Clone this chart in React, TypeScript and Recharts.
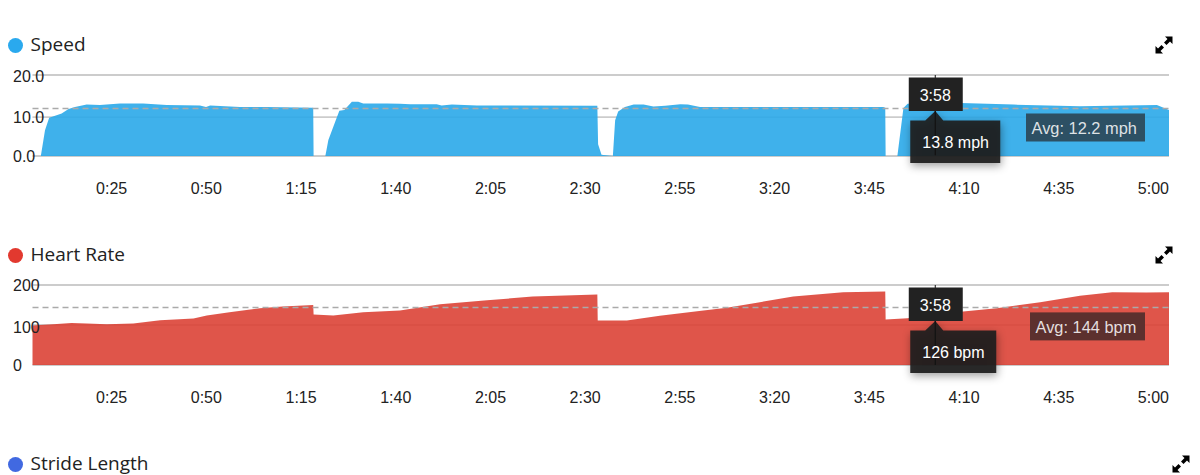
import React from 'react';
import { AreaChart, Area, XAxis, YAxis, ReferenceLine, CartesianGrid } from 'recharts';

const timeTicks = [25, 50, 75, 100, 125, 150, 175, 200, 225, 250, 275, 300];

// [seconds, mph]
const speedPoints = [
  [0, 0], [2.2, 0], [3.3, 6.6], [4.4, 9.8], [7.7, 10.9], [9.5, 12.1], [11.2, 12.6], [14.3, 13.2],
  [17.8, 13.1], [23.1, 13.5], [29.2, 13.5], [35.4, 13.1], [44.2, 13], [45.8, 12.6], [46.9, 13],
  [54.8, 12.6], [61.8, 12.6], [74.1, 12.4], [74.2, 0], [77.3, 0], [78.1, 4.1], [79.9, 8.8],
  [81, 11.6], [82.3, 11.8], [84.3, 13.9], [86, 13.9], [87.3, 13.5], [93.5, 13.5], [97, 13.4],
  [99.7, 13.3], [106.7, 13.3], [108, 13], [110.7, 13.2], [117.3, 13], [149.1, 12.9], [149.3, 3],
  [150.2, 0.3], [153.2, 0], [153.8, 9.2], [154.6, 11.4], [156.4, 12.6], [158.7, 13.2], [161.3, 13.2],
  [163.9, 12.7], [167, 12.9], [171, 13.3], [173, 13.2], [176.2, 12.6], [224.6, 12.6], [225.1, 12.4],
  [225.2, 0], [228.3, 0], [229.9, 12.3], [231, 13.4], [238, 13.8], [245, 13.6], [259, 13.2],
  [276.5, 12.8], [296.8, 13.1], [300, 11.8],
];

// [seconds, bpm]
const heartPoints = [
  [0, 99], [5.5, 102], [10.3, 105], [14.3, 104], [19.6, 102], [26.6, 104], [33.7, 112], [42.5, 116],
  [46, 124], [52, 132], [60, 142], [66, 146], [74.1, 150], [74.2, 126], [79.4, 124], [87.3, 132],
  [97, 136], [107.6, 152], [120, 162], [132, 171], [149.1, 176], [149.2, 111], [156.9, 111],
  [165.6, 123], [176, 135], [183.3, 143], [192, 157], [200.8, 171], [214, 182], [225.1, 184],
  [225.2, 114], [231, 117], [238, 126], [245, 133], [254.5, 142], [266, 157], [276.5, 173],
  [285, 182], [294, 181], [300, 182],
];

const speedData = speedPoints.map(([t, v]) => ({ t, v }));
const heartData = heartPoints.map(([t, v]) => ({ t, v }));

const cursorTime = 238.3;
const cursorLabel = '3:58';

const fontAxis = '"Liberation Sans", Arial, sans-serif';
const fontTitle = '"Open Sans", sans-serif';

const fmtTime = (s: number) => `${Math.floor(s / 60)}:${String(s % 60).padStart(2, '0')}`;

// expand icon, two little arrows
const ExpandIcon = ({ x, y }: { x: number; y: number }) => (
  <svg width={18} height={18} viewBox="0 0 18 18" style={{ position: 'absolute', left: x - 9, top: y - 9 }}>
    <path d="M10 0.5 H17.5 V8 L15 5.5 L11.5 9 L9 6.5 L12.5 3 Z" fill="#000" />
    <path d="M8 17.5 H0.5 V10 L3 12.5 L6.5 9 L9 11.5 L5.5 15 Z" fill="#000" />
  </svg>
);

const Title = ({ y, color, text }: { y: number; color: string; text: string }) => (
  <>
    <div style={{ position: 'absolute', left: 8, top: y - 7.5, width: 15, height: 15, borderRadius: '50%', background: color }} />
    <div style={{ position: 'absolute', left: 30.5, top: y - 14, lineHeight: '26px', fontFamily: fontTitle, fontSize: 19, color: '#222' }}>{text}</div>
  </>
);

const YTick = ({ y, payload, decimals, nudge }: any) => (
  <text x={13} y={y + 6 - (nudge[payload.value] || 0)} fontFamily={fontAxis} fontSize={16} fill="#222">
    {payload.value.toFixed(decimals)}
  </text>
);

const XTick = ({ x, y, payload }: any) => (
  <text x={x} y={y + 30} textAnchor="end" fontFamily={fontAxis} fontSize={16} fill="#222">
    {fmtTime(payload.value)}
  </text>
);

const AvgLabel = ({ viewBox, text, top, left, bg }: any) => (
  <g>
    <rect x={left} y={viewBox.y + top} width={1145 - left} height={28} fill={bg} />
    <text x={left + 5.5} y={viewBox.y + top + 20.5} fontFamily={fontAxis} fontSize={16.4} fill="rgba(255,255,255,0.85)">{text}</text>
  </g>
);

const CursorLabel = ({ viewBox, value, boxWidth }: any) => {
  const cx = viewBox.x;
  const top = viewBox.y;
  return (
    <g>
      <g style={{ filter: 'drop-shadow(1px 3px 4px rgba(0,0,0,0.4))' }}>
        <path
          d={`M${cx - 25} ${top + 45.5} H${cx - 10} L${cx} ${top + 36} L${cx + 8} ${top + 45.5} H${cx - 25 + boxWidth} V${top + 88} H${cx - 25} Z`}
          fill="rgba(30,30,30,0.93)"
        />
      </g>
      <rect x={cx - 26.5} y={top + 2.5} width={54} height={33.5} fill="#222" />
      <line x1={cx} x2={cx} y1={top + 36} y2={top + 80} stroke="#111" />
      <text x={cx} y={top + 25.5} textAnchor="middle" fontFamily={fontAxis} fontSize={16} fill="#fff">{cursorLabel}</text>
      <text x={cx - 13} y={top + 72.5} fontFamily={fontAxis} fontSize={16} fill="#fff">{value}</text>
    </g>
  );
};

const Panel = ({ top, data, fill, domainMax, yTicks, gridLines, decimals, nudge, avg, avgText, avgTop, avgLeft, avgBg, value, boxWidth, bottom }: any) => (
  <div style={{ position: 'absolute', left: 0, top }}>
    <AreaChart width={1200} height={210} data={data} margin={{ top: 75, right: 31, left: 31.5, bottom: 0 }}>
      <CartesianGrid vertical={false} horizontalValues={gridLines} stroke="#ccc" strokeWidth={1.8} />
      <XAxis
        dataKey="t"
        type="number"
        domain={[0, 300]}
        ticks={timeTicks}
        interval={0}
        height={bottom}
        axisLine={false}
        tickLine={false}
        tick={<XTick />}
      />
      <YAxis
        width={1}
        domain={[0, domainMax]}
        ticks={yTicks}
        interval={0}
        axisLine={false}
        tickLine={false}
        tick={<YTick decimals={decimals} nudge={nudge} />}
      />
      <Area dataKey="v" type="linear" stroke="none" fill={fill} fillOpacity={0.9} dot={false} activeDot={false} isAnimationActive={false} />
      <ReferenceLine
        y={avg}
        stroke="#aaa"
        strokeWidth={1.5}
        strokeDasharray="6 4"
        label={<AvgLabel text={avgText} top={avgTop} left={avgLeft} bg={avgBg} />}
      />
      <ReferenceLine
        x={cursorTime}
        stroke="#111"
        strokeWidth={1}
        label={<CursorLabel value={value} boxWidth={boxWidth} />}
      />
    </AreaChart>
  </div>
);

export default function App() {
  return (
    <div style={{ position: 'absolute', left: 0, top: 0, width: 1200, height: 475, overflow: 'hidden', background: '#fff' }}>
      <Title y={45} color="#2AA9EE" text="Speed" />
      <ExpandIcon x={1164} y={45} />
      <Panel
        top={0}
        bottom={54}
        data={speedData}
        fill="#2AA9E9"
        domainMax={20.8}
        yTicks={[0, 10, 20]}
        gridLines={[0, 10, 20.8]}
        decimals={1}
        nudge={{ 20: 2 }}
        avg={12.2}
        avgText="Avg: 12.2 mph"
        avgTop={5}
        avgLeft={1026}
        avgBg="rgba(45,80,100,1)"
        value="13.8 mph"
        boxWidth={90}
      />
      <Title y={255} color="#E2392F" text="Heart Rate" />
      <ExpandIcon x={1164} y={255} />
      <Panel
        top={210}
        bottom={55}
        data={heartData}
        fill="#DB4236"
        domainMax={200}
        yTicks={[0, 100, 200]}
        gridLines={[0, 100, 200]}
        decimals={0}
        nudge={{ 100: -2 }}
        avg={144}
        avgText="Avg: 144 bpm"
        avgTop={5}
        avgLeft={1030}
        avgBg="rgba(92,48,46,1)"
        value="126 bpm"
        boxWidth={86}
      />
      <Title y={464} color="#4169E1" text="Stride Length" />
      <ExpandIcon x={1181} y={464} />
    </div>
  );
}
